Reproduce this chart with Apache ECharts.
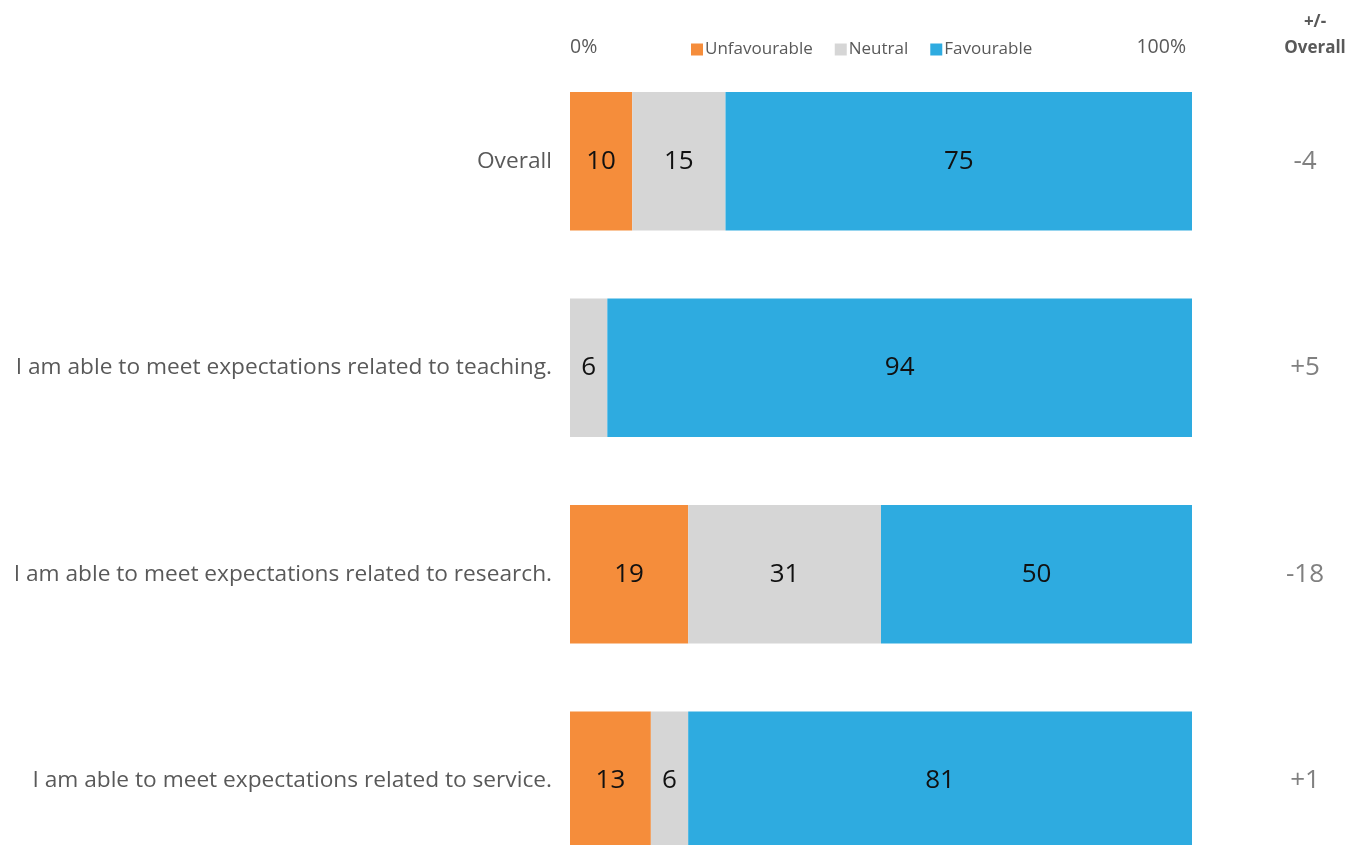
<!DOCTYPE html>
<html>
<head>
<meta charset="utf-8">
<script src="https://cdn.jsdelivr.net/npm/echarts@6/dist/echarts.min.js"></script>
<style>
  html, body { margin: 0; padding: 0; background: #fff; overflow: hidden; }
  #chart { width: 1346px; height: 900px; }
</style>
</head>
<body>
<div id="chart"></div>
<script>
const questions = [
  'Overall',
  'I am able to meet expectations related to teaching.',
  'I am able to meet expectations related to research.',
  'I am able to meet expectations related to service.'
]
const unfavourable = [10, 0, 19, 13]
const neutral = [15, 6, 31, 6]
const favourable = [75, 94, 50, 81]
const diffVsOverall = ['-4', '+5', '-18', '+1']

const font = '"Open Sans", "Noto Sans", sans-serif'
const muted = '#595959'

function barLabel() {
  return {
    show: true,
    position: 'inside',
    color: '#111',
    fontSize: 26,
    fontFamily: font,
    formatter: (p) => (p.value > 0 ? String(p.value) : '')
  }
}

function makeSeries(name, data, color) {
  return {
    name,
    type: 'bar',
    stack: 'total',
    data,
    barCategoryGap: '33%',
    itemStyle: { color },
    label: barLabel(),
    emphasis: { disabled: true }
  }
}

const chart = echarts.init(document.getElementById('chart'))
chart.setOption({
  backgroundColor: '#fff',
  animation: false,
  textStyle: { fontFamily: font },
  title: {
    text: '+/-\nOverall',
    left: 1310,
    top: 4,
    textAlign: 'center',
    textStyle: {
      color: muted,
      fontSize: 17,
      fontWeight: 'bold',
      lineHeight: 26,
      fontFamily: font
    }
  },
  legend: {
    left: 686,
    top: 36,
    icon: 'rect',
    itemWidth: 12,
    itemHeight: 12,
    itemGap: 22,
    selectedMode: false,
    textStyle: { color: muted, fontSize: 17, fontFamily: font, padding: [0, 0, 0, -3] },
    data: ['Unfavourable', 'Neutral', 'Favourable']
  },
  grid: { left: 570, right: 154, top: 58, height: 826 },
  xAxis: {
    type: 'value',
    position: 'top',
    min: 0,
    max: 100,
    interval: 100,
    axisLine: { show: false },
    axisTick: { show: false },
    splitLine: { show: false },
    axisLabel: {
      color: muted,
      fontSize: 19.5,
      margin: 1,
      padding: [0, 6, 0, 0],
      formatter: '{value}%',
      alignMinLabel: 'left',
      alignMaxLabel: 'right'
    }
  },
  yAxis: [{
    type: 'category',
    inverse: true,
    data: questions,
    axisLine: { show: false },
    axisTick: { show: false },
    axisLabel: { color: muted, fontSize: 22.7, margin: 18 }
  }, {
    type: 'category',
    inverse: true,
    position: 'right',
    data: diffVsOverall,
    axisLine: { show: false },
    axisTick: { show: false },
    axisLabel: { color: '#808080', fontSize: 26, margin: 113, align: 'center' }
  }],
  series: [
    makeSeries('Unfavourable', unfavourable, '#F58D3B'),
    makeSeries('Neutral', neutral, '#D6D6D6'),
    makeSeries('Favourable', favourable, '#2EABE0')
  ]
})
</script>
</body>
</html>
